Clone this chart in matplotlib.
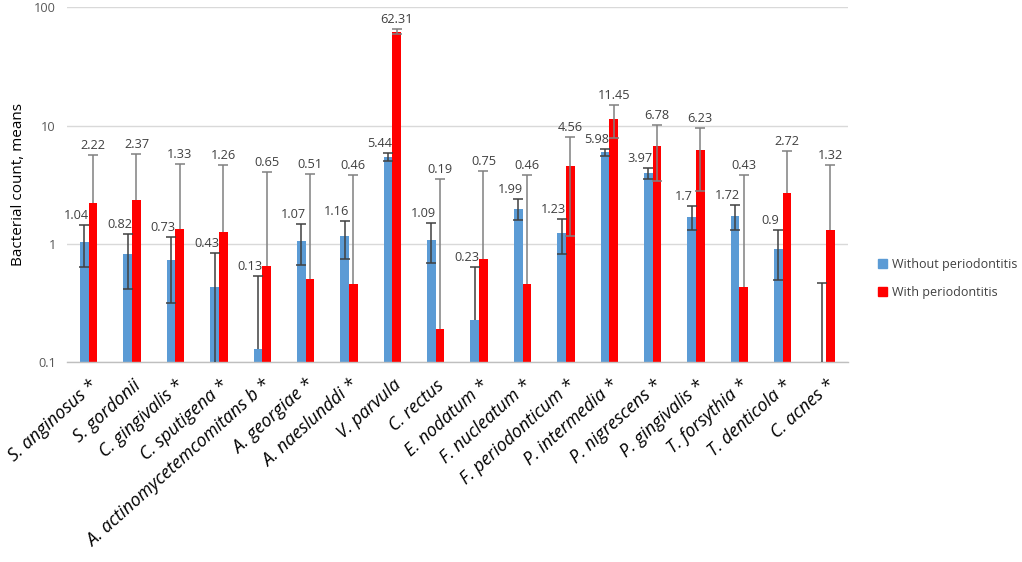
import matplotlib
matplotlib.use("Agg")
import matplotlib.pyplot as plt
import numpy as np

plt.rcParams['font.family'] = ['Open Sans', 'DejaVu Sans']

categories = ["S. anginosus *", "S. gordonii", "C. gingivalis *", "C. sputigena *",
              "A. actinomycetemcomitans b *", "A. georgiae *", "A. naeslunddi *",
              "V. parvula", "C. rectus", "E. nodatum *", "F. nucleatum *",
              "F. periodonticum *", "P. intermedia *", "P. nigrescens *",
              "P. gingivalis *", "T. forsythia *", "T. denticola *", "C. acnes *"]

without_vals = [1.04, 0.82, 0.73, 0.43, 0.13, 1.07, 1.16, 5.44, 1.09, 0.23, 1.99,
                1.23, 5.98, 3.97, 1.7, 1.72, 0.9, 0.0]
without_labels = ["1.04", "0.82", "0.73", "0.43", "0.13", "1.07", "1.16", "5.44", "1.09",
                  "0.23", "1.99", "1.23", "5.98", "3.97", "1.7", "1.72", "0.9", ""]
without_err = [0.40, 0.40, 0.41, 0.41, 0.41, 0.40, 0.41, 0.39, 0.40, 0.41, 0.41,
               0.41, 0.41, 0.40, 0.39, 0.40, 0.40, 0.47]

with_vals = [2.22, 2.37, 1.33, 1.26, 0.65, 0.51, 0.46, 62.31, 0.19, 0.75, 0.46,
             4.56, 11.45, 6.78, 6.23, 0.43, 2.72, 1.32]
with_labels = ["2.22", "2.37", "1.33", "1.26", "0.65", "0.51", "0.46", "62.31", "0.19",
               "0.75", "0.46", "4.56", "11.45", "6.78", "6.23", "0.43", "2.72", "1.32"]
with_err = [3.41, 3.40, 3.38, 3.42, 3.38, 3.42, 3.39, 3.0, 3.37, 3.36, 3.39,
            3.40, 3.55, 3.40, 3.40, 3.40, 3.34, 3.36]

blue = "#5B9BD5"
red = "#FF0000"

fig = plt.figure(figsize=(10.22, 5.62), dpi=100)
ax = fig.add_axes([0.0656, 0.3553, 0.764, 0.6317])

x = np.arange(len(categories))
w = 0.2
xb = x - w / 2
xr = x + w / 2

ax.bar(xb, without_vals, width=w, color=blue, zorder=2, label="Without periodontitis")
ax.bar(xr, with_vals, width=w, color=red, zorder=2, label="With periodontitis")


def draw_err(xs, vals, errs, color):
    vals = np.array(vals, float)
    errs = np.array(errs, float)
    lo = np.where(vals - errs > 0, errs, 0.0)
    ax.errorbar(xs, vals, yerr=[lo, errs], fmt='none', ecolor=color, elinewidth=1.1,
                capsize=0, zorder=3)
    ax.plot(xs, vals + errs, linestyle='none', marker='_', markersize=6.5,
            markeredgewidth=1.1, color=color, zorder=3)
    m = lo > 0
    ax.plot(np.array(xs)[m], (vals - lo)[m], linestyle='none', marker='_', markersize=6.5,
            markeredgewidth=1.1, color=color, zorder=3, clip_on=True)
    return vals + errs


tops_b = draw_err(xb, without_vals, without_err, "#404040")
tops_r = draw_err(xr, with_vals, with_err, "#808080")

for xi, t, lab in zip(xb, tops_b, without_labels):
    if lab:
        ax.annotate(lab, (xi, t), xytext=(-8, 3), textcoords='offset pixels',
                    ha='center', va='bottom', fontsize=9.2, color='#404040', zorder=4)
for xi, t, lab in zip(xr, tops_r, with_labels):
    ax.annotate(lab, (xi, t), xytext=(0, 3), textcoords='offset pixels',
                ha='center', va='bottom', fontsize=9.2, color='#404040', zorder=4)

ax.set_yscale('log')
ax.set_ylim(0.1, 100)
ax.set_xlim(-0.5, len(categories) - 0.5)
ax.set_yticks([0.1, 1, 10, 100])
ax.set_yticklabels(["0.1", "1", "10", "100"])
ax.minorticks_off()
ax.yaxis.grid(True, color='#d9d9d9', linewidth=1, zorder=0)
ax.set_axisbelow(True)
ax.tick_params(axis='y', length=0, labelsize=9.2, labelcolor='#595959', pad=8)
ax.tick_params(axis='x', length=0, pad=10)
ax.set_xticks(x)
ax.set_xticklabels(categories, rotation=42, ha='right', rotation_mode='anchor',
                   fontsize=12.8, style='italic', color='#000000')
for s in ['left', 'right', 'top']:
    ax.spines[s].set_visible(False)
ax.spines['bottom'].set_color('#bfbfbf')
ax.spines['bottom'].set_linewidth(1)
ax.set_ylabel("Bacterial count, means", fontsize=11, color='#000000', labelpad=6)

handles = [plt.Rectangle((0, 0), 1, 1, color=blue), plt.Rectangle((0, 0), 1, 1, color=red)]
fig.legend(handles, ["Without periodontitis", "With periodontitis"],
           loc='center left', bbox_to_anchor=(0.848, 0.505), frameon=False,
           fontsize=9, handlelength=0.7, handleheight=0.7, handletextpad=0.4,
           labelspacing=1.2, labelcolor='#404040')

fig.savefig("out.png", dpi=100)
